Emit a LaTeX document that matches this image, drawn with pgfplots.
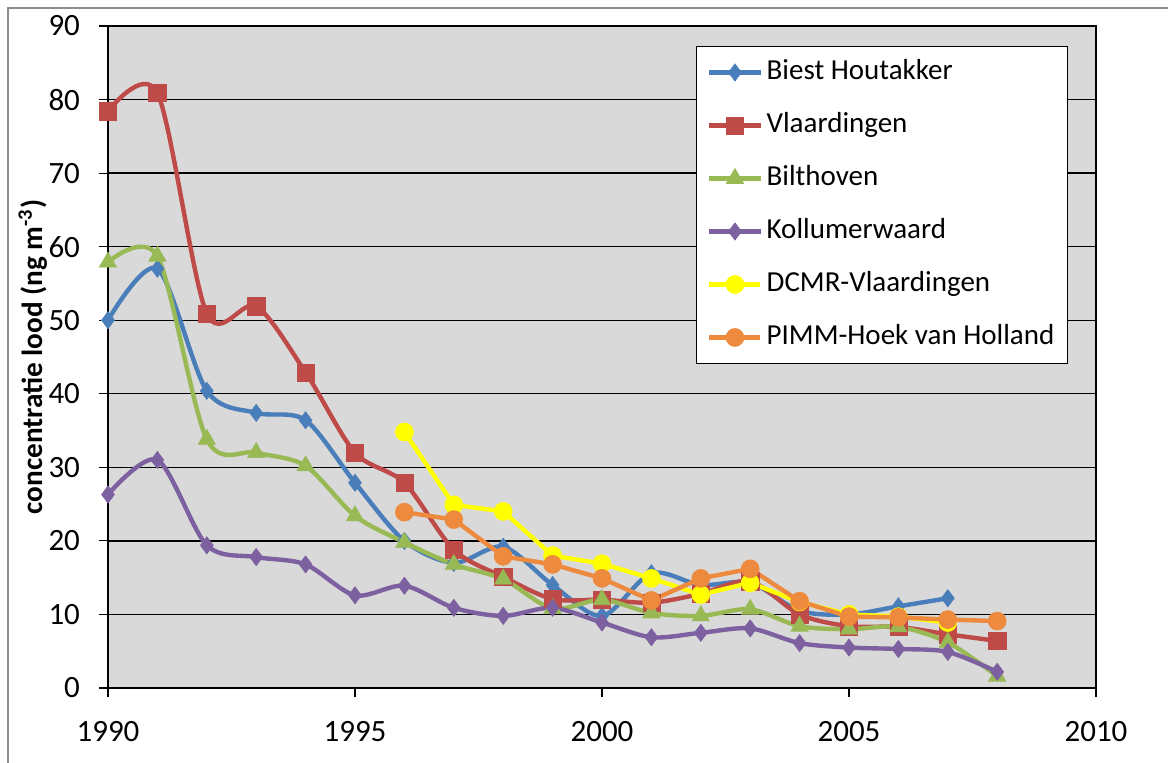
\documentclass[border=0pt]{standalone}
\usepackage{pgfplots}
\pgfplotsset{compat=1.18}
\usepackage{fontspec}
\setmainfont{Carlito}
\definecolor{cblue}{HTML}{4A7EBB}
\definecolor{cred}{HTML}{BE4B48}
\definecolor{cgreen}{HTML}{98B954}
\definecolor{cpurple}{HTML}{7D60A0}
\definecolor{cyellow}{HTML}{FFFF00}
\definecolor{corange}{HTML}{EE8A3E}
\definecolor{bgray}{HTML}{D9D9D9}
\definecolor{framegray}{HTML}{8C8C8C}
\begin{document}
\begin{tikzpicture}
\useasboundingbox (0pt,0pt) rectangle (584pt,381.5pt);
\draw[framegray, line width=1pt] (4pt,0pt) -- (4pt,377.5pt) -- (584pt,377.5pt);
\begin{axis}[
  at={(54pt,37.5pt)}, anchor=south west,
  scale only axis, width=494pt, height=331pt,
  xmin=1990, xmax=2010, ymin=0, ymax=90,
  xtick={1990,1995,2000,2005,2010},
  ytick={0,10,20,30,40,50,60,70,80,90},
  /pgf/number format/assume math mode=true,
  /pgf/number format/1000 sep={},
  tick label style={font=\fontsize{15.5}{18}\selectfont, black},
  xticklabel style={yshift=-8.5pt},
  yticklabel style={xshift=-6pt},
  tick align=outside, major tick length=4.5pt,
  xtick pos=left, ytick pos=left,
  tick style={black, line width=0.6pt},
  axis line style={black, line width=0.6pt},
  ymajorgrids, major grid style={black, line width=0.7pt},
  axis background/.style={fill=bgray},
  ylabel={concentratie lood (ng m\textsuperscript{-3})},
  every axis y label/.style={at={([xshift=-37.5pt]rel axis cs:0,0.5)}, rotate=90, anchor=center, font=\bfseries\fontsize{14.6}{17}\selectfont},
  legend style={at={(rel axis cs:0.595,0.970)}, anchor=north west, draw=black, fill=white,
    font=\fontsize{14.5}{17}\selectfont, inner xsep=5.5pt, inner ysep=5.5pt,
    row sep=11.3pt, column sep=1pt,
    nodes={inner sep=1pt, text height=10.2pt, text depth=3pt}},
  legend cell align=left,
  legend image code/.code={\draw[mark repeat=2,mark phase=2] plot coordinates {(0pt,0pt)(12.75pt,0pt)(25.5pt,0pt)};},
  every axis plot/.append style={line width=2.2pt},
]
\addplot[cblue, smooth, tension=0.5, mark=diamond*, mark size=4.3pt, mark options={line width=0.3pt, fill=cblue}] coordinates {
(1990,50)(1991,57)(1992,40.4)(1993,37.4)(1994,36.4)(1995,27.9)(1996,20)(1997,17)(1998,19.2)(1999,14)(2000,9.8)(2001,15.6)(2002,14)(2003,14.3)(2004,10.5)(2005,10)(2006,11.1)(2007,12.2)};
\addlegendentry{Biest Houtakker}
\addplot[cred, smooth, tension=0.5, mark=square*, mark size=4.3pt, mark options={line width=0.3pt, fill=cred}] coordinates {
(1990,78.4)(1991,80.9)(1992,50.9)(1993,51.9)(1994,42.9)(1995,32)(1996,27.9)(1997,18.8)(1998,15.1)(1999,12.1)(2000,12)(2001,11.6)(2002,12.8)(2003,14.5)(2004,10)(2005,8.4)(2006,8.3)(2007,7.3)(2008,6.4)};
\addlegendentry{Vlaardingen}
\addplot[cgreen, smooth, tension=0.5, mark=triangle*, mark size=5pt, mark options={line width=0.3pt, fill=cgreen}] coordinates {
(1990,57.9)(1991,58.7)(1992,33.8)(1993,32)(1994,30.2)(1995,23.4)(1996,19.8)(1997,16.8)(1998,14.8)(1999,10.8)(2000,12)(2001,10.2)(2002,9.8)(2003,10.7)(2004,8.4)(2005,8)(2006,8.3)(2007,6.2)(2008,1.6)};
\addlegendentry{Bilthoven}
\addplot[cpurple, smooth, tension=0.5, mark=diamond*, mark size=4.3pt, mark options={line width=0.3pt, fill=cpurple}] coordinates {
(1990,26.3)(1991,31)(1992,19.4)(1993,17.8)(1994,16.8)(1995,12.6)(1996,13.9)(1997,10.9)(1998,9.8)(1999,10.9)(2000,8.9)(2001,6.9)(2002,7.5)(2003,8.1)(2004,6.1)(2005,5.5)(2006,5.3)(2007,4.9)(2008,2.2)};
\addlegendentry{Kollumerwaard}
\addplot[cyellow, mark=*, mark size=4.5pt, mark options={line width=0.3pt, fill=cyellow}] coordinates {
(1996,34.8)(1997,24.9)(1998,24)(1999,18)(2000,16.9)(2001,14.9)(2002,12.7)(2003,14.3)(2004,11.7)(2005,10)(2006,9.7)(2007,8.9)};
\addlegendentry{DCMR-Vlaardingen}
\addplot[corange, mark=*, mark size=4.5pt, mark options={line width=0.3pt, fill=corange}] coordinates {
(1996,23.9)(1997,22.9)(1998,17.9)(1999,16.8)(2000,14.9)(2001,11.9)(2002,14.9)(2003,16.2)(2004,11.8)(2005,9.7)(2006,9.6)(2007,9.3)(2008,9.1)};
\addlegendentry{PIMM-Hoek van Holland}
\end{axis}
\end{tikzpicture}
\end{document}
